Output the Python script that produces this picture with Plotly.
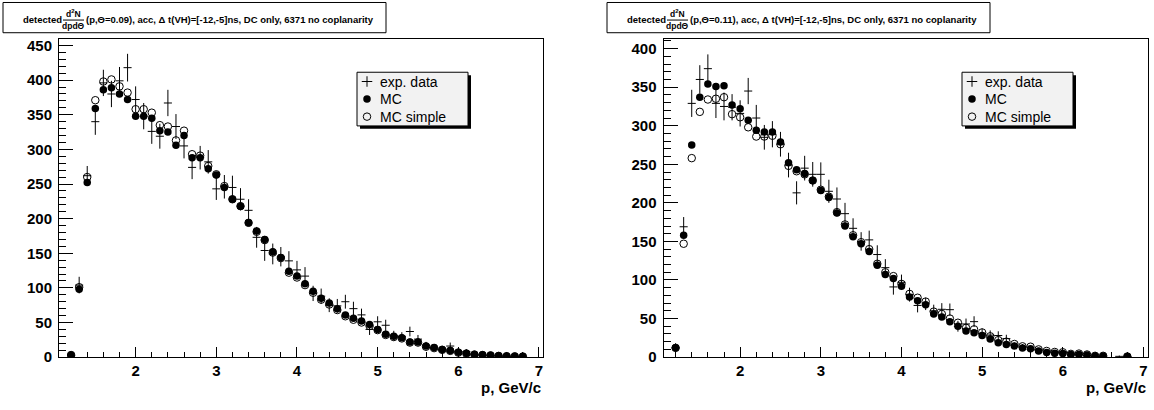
import plotly.graph_objects as go

W, H = 1154, 410

# ---------------- data: momentum bin centres (GeV/c) ----------------
p_bins = [1.2, 1.3, 1.4, 1.5, 1.6, 1.7, 1.8, 1.9, 2.0, 2.1,
          2.2, 2.3, 2.4, 2.5, 2.6, 2.7, 2.8, 2.9, 3.0, 3.1,
          3.2, 3.3, 3.4, 3.5, 3.6, 3.7, 3.8, 3.9, 4.0, 4.1,
          4.2, 4.3, 4.4, 4.5, 4.6, 4.7, 4.8, 4.9, 5.0, 5.1,
          5.2, 5.3, 5.4, 5.5, 5.6, 5.7, 5.8, 5.9, 6.0, 6.1,
          6.2, 6.3, 6.4, 6.5, 6.6, 6.7, 6.8]

# ---------------- Theta = 0.09 ----------------
mc_09 = [3, 98, 252, 359, 386, 389, 380, 372, 348, 348,
         345, 327, 325, 306, 320, 288, 288, 272, 263, 245,
         228, 218, 194, 182, 170, 152, 144, 124, 117, 106,
         95, 85, 78, 70, 61, 56, 52, 47, 40, 33,
         30, 28, 22, 22, 16, 14, 11, 9.5, 7, 5.5,
         4, 3.3, 2.8, 2, 1.5, 1.2, 1]
mcs_09 = [3, 101, 260, 371, 398, 401, 391, 382, 358, 358,
          353, 335, 333, 313, 327, 293, 291, 276, 264, 247,
          228, 218, 194, 181, 169, 151, 143, 122, 115, 104,
          93, 83, 76, 68, 59, 54, 50, 45, 39, 32,
          29, 27, 21, 21, 15, 13, 10.5, 9, 6.5, 5,
          3.5, 3, 2.5, 1.8, 1.3, 1.1, 0.9]
exp_09 = [2, 104, 262, 340, 396, 380, 399, 418, 372, 348,
          326, 319, 367, 333, 305, 274, 288, 282, 243, 246,
          245, 228, 212, 173, 154, 149, 145, 139, 126, 117,
          92, 88, 75, 74, 80, 70, 61, 40, 51, 46,
          31, 30, 37, 26, 17, 13, 11, 16, 8, 8,
          4, 2.5, 2, 1.5, 1, 0.8, 0.5]
err_09 = [1.5, 12, 14, 19, 19, 19, 20, 20, 19, 19,
          18, 18, 19, 18, 18, 17, 17, 17, 16, 17,
          17, 16, 16, 15, 15, 15, 14, 14, 13, 13,
          11, 11, 10, 10, 10, 10, 9, 8, 8, 8,
          7, 6, 7, 6, 5, 4.5, 4, 5, 3.5, 3.5,
          2.5, 2, 1.5, 1.5, 1, 1, 0.7]

# ---------------- Theta = 0.11 ----------------
mc_11 = [12, 158, 275, 337, 354, 351, 352, 327, 322, 307,
         294, 292, 292, 279, 252, 243, 238, 229, 216, 207,
         187, 170, 156, 147, 137, 119, 107, 102, 92, 78,
         73, 68, 56, 52, 46, 40, 34, 31.6, 28, 23.6,
         18.5, 16.4, 14.3, 11.8, 11, 8, 6, 5, 4.6, 3.4,
         3.4, 2.9, 1.3, 1.3, None, None, 0.8]
mcs_11 = [12, 147, 258, 318, 334, 335, 337, 315, 311, 298,
          286, 286, 287, 276, 248, 241, 237, 229, 217, 208,
          188, 172, 158, 149, 140, 121, 110, 105, 95, 82,
          77, 72, 59, 56, 50, 44.6, 38, 36, 32, 27,
          22, 20, 17, 14, 13.5, 10, 8, 6.7, 6.3, 4.2,
          4.6, 3.4, 1.7, 1.7, None, None, 0.8]
exp_11 = [12, 169, 329, 360, 374, 329, 325, 324, 316, 345,
          310, 285, 289, 276, 249, 213, 245, 237, 237, 215,
          205, 186, 167, 150, 152, 133, 116, 91, 97, 81,
          67, 69, 60, 62, 61.5, 40, 43, 46, 31, 28.6,
          28, 24, 15, 13, 10, 9, 6.3, 5.5, 6.3, 3,
          4, 2, 1, 1, None, 1, 0.8]
err_11 = [6, 12.6, 17.6, 18.5, 18.5, 19, 18, 17, 17, 17,
          17, 16, 17, 16, 16, 15, 16, 16, 15.5, 15,
          15, 14, 13, 12, 12, 12, 11, 10, 10, 9,
          9, 8, 8, 8, 8, 7, 7, 7, 6, 6,
          5.5, 5, 4, 4, 3.5, 3, 2.5, 2.5, 2.5, 2,
          2, 1.5, 1, 1, None, 1, 1]

titles = ["(p,\u0398=0.09), acc, \u0394 t(VH)=[-12,-5]ns, DC only, 6371 no coplanarity",
          "(p,\u0398=0.11), acc, \u0394 t(VH)=[-12,-5]ns, DC only, 6371 no coplanarity"]
y_max = [460, 413]
legend_labels = ["exp. data", "MC", "MC simple"]

# ---------------- layout geometry (pixels) ----------------
FRAME_TOP, FRAME_BOTTOM = 37.5, 364
panels = [
    dict(x0=59, x1=543, off=0),
    dict(x0=663.5, x1=1147.5, off=604),
]
FONT = "Liberation Sans"


def fx(px):
    return px / W


def fy(py):
    return 1 - py / H


fig = go.Figure()
shapes, annotations = [], []

series = [(mc_09, mcs_09, exp_09, err_09), (mc_11, mcs_11, exp_11, err_11)]

for i, (pan, (mc, mcs, ex, er)) in enumerate(zip(panels, series)):
    xa = "x" if i == 0 else "x2"
    ya = "y" if i == 0 else "y2"
    # measured data: statistical error bars plus bin-width horizontal bars, no marker
    fig.add_trace(go.Scatter(
        x=p_bins, y=ex, mode="markers", xaxis=xa, yaxis=ya,
        marker=dict(size=4, color="black", opacity=0),
        error_x=dict(type="constant", value=0.05, width=0, thickness=1, color="black"),
        error_y=dict(type="data", array=er, width=0, thickness=1, color="black"),
        showlegend=False, hoverinfo="skip"))
    # simple Monte Carlo: open circles
    fig.add_trace(go.Scatter(
        x=p_bins, y=mcs, mode="markers", xaxis=xa, yaxis=ya,
        marker=dict(symbol="circle-open", size=7.5, color="black", line=dict(width=1, color="black")),
        showlegend=False, hoverinfo="skip"))
    # full Monte Carlo: filled circles
    fig.add_trace(go.Scatter(
        x=p_bins, y=mc, mode="markers", xaxis=xa, yaxis=ya,
        marker=dict(symbol="circle", size=7.5, color="black"),
        showlegend=False, hoverinfo="skip"))

    off = pan["off"]
    # title box
    shapes.append(dict(type="rect", xref="paper", yref="paper",
                       x0=fx(3 + off), x1=fx(386 + off), y0=fy(31.5), y1=fy(0.5),
                       line=dict(color="black", width=1), fillcolor="white", layer="below"))
    annotations.append(dict(text="detected", xref="paper", yref="paper",
                            x=fx(21 + off), y=fy(17.5), xanchor="left", yanchor="middle",
                            showarrow=False, font=dict(family=FONT, size=9.5, weight="bold", color="black")))
    annotations.append(dict(text="d<sup>2</sup>N", xref="paper", yref="paper",
                            x=fx(73.5 + off), y=fy(11.5), xanchor="center", yanchor="middle",
                            showarrow=False, font=dict(family=FONT, size=8.5, weight="bold", color="black")))
    shapes.append(dict(type="line", xref="paper", yref="paper",
                       x0=fx(63 + off), x1=fx(84 + off), y0=fy(18.5), y1=fy(18.5),
                       line=dict(color="black", width=1)))
    annotations.append(dict(text="dpd\u0398", xref="paper", yref="paper",
                            x=fx(73.5 + off), y=fy(24.5), xanchor="center", yanchor="middle",
                            showarrow=False, font=dict(family=FONT, size=8.5, weight="bold", color="black")))
    annotations.append(dict(text=titles[i], xref="paper", yref="paper",
                            x=fx(84 + off), y=fy(18), xanchor="left", yanchor="middle",
                            showarrow=False, font=dict(family=FONT, size=9.5, weight="bold", color="black")))
    # x axis title
    annotations.append(dict(text="p, GeV/c", xref="paper", yref="paper",
                            x=fx(pan["x1"]), y=fy(395), xanchor="right", yanchor="middle",
                            showarrow=False, font=dict(family=FONT, size=15, weight="bold", color="black")))
    # legend box with shadow
    lx0, lx1, ly0, ly1 = 357 + off + (1 if i else 0), 468 + off + (1 if i else 0), 72, 127
    shapes.append(dict(type="rect", xref="paper", yref="paper",
                       x0=fx(lx0 + 3), x1=fx(lx1 + 3), y0=fy(ly1 + 3), y1=fy(ly0 + 3),
                       line=dict(width=0), fillcolor="black", layer="below"))
    shapes.append(dict(type="rect", xref="paper", yref="paper",
                       x0=fx(lx0), x1=fx(lx1), y0=fy(ly1), y1=fy(ly0),
                       line=dict(color="black", width=1), fillcolor="#f2f2f2", layer="below"))
    rows = [81.5, 99.5, 117.5]
    for lab, ry in zip(legend_labels, rows):
        annotations.append(dict(text=lab, xref="paper", yref="paper",
                                x=fx(lx0 + 21), y=fy(ry), xanchor="left", yanchor="middle",
                                showarrow=False, font=dict(family=FONT, size=14, color="black")))
    # legend keys drawn on a full-page pixel overlay
    kx = lx0 + 10
    fig.add_trace(go.Scatter(x=[kx], y=[rows[0]], xaxis="x3", yaxis="y3", mode="markers",
                             marker=dict(symbol="cross-thin-open", size=7.5, color="black",
                                         line=dict(width=1, color="black")),
                             showlegend=False, hoverinfo="skip"))
    fig.add_trace(go.Scatter(x=[kx], y=[rows[1]], xaxis="x3", yaxis="y3", mode="markers",
                             marker=dict(symbol="circle", size=7.5, color="black"),
                             showlegend=False, hoverinfo="skip"))
    fig.add_trace(go.Scatter(x=[kx], y=[rows[2]], xaxis="x3", yaxis="y3", mode="markers",
                             marker=dict(symbol="circle-open", size=7.5, color="black",
                                         line=dict(width=1, color="black")),
                             showlegend=False, hoverinfo="skip"))


def x_axis(pan, anchor):
    return dict(domain=[fx(pan["x0"]), fx(pan["x1"])], anchor=anchor, range=[1.05, 7.05],
                tick0=0, dtick=1, ticks="inside", ticklen=10, tickwidth=1, tickcolor="black",
                minor=dict(ticks="inside", ticklen=5, tick0=0, dtick=0.2, tickwidth=1, tickcolor="black"),
                showline=True, linecolor="black", linewidth=1, mirror=True,
                showgrid=False, zeroline=False,
                tickfont=dict(family=FONT, size=15, weight="bold", color="black"))


def y_axis(pan, anchor, top):
    return dict(domain=[fy(FRAME_BOTTOM), fy(FRAME_TOP)], anchor=anchor, range=[0, top],
                tick0=0, dtick=50, ticks="inside", ticklen=14, tickwidth=1, tickcolor="black",
                minor=dict(ticks="inside", ticklen=7, tick0=0, dtick=10, tickwidth=1, tickcolor="black"),
                showline=True, linecolor="black", linewidth=1, mirror=True,
                showgrid=False, zeroline=False, ticklabelstandoff=3,
                tickfont=dict(family=FONT, size=15, weight="bold", color="black"))


fig.update_layout(
    width=W, height=H,
    margin=dict(l=0, r=0, t=0, b=0),
    paper_bgcolor="white", plot_bgcolor="rgba(0,0,0,0)",
    xaxis=x_axis(panels[0], "y"),
    yaxis=y_axis(panels[0], "x", y_max[0]),
    xaxis2=x_axis(panels[1], "y2"),
    yaxis2=y_axis(panels[1], "x2", y_max[1]),
    xaxis3=dict(domain=[0, 1], range=[0, W], anchor="y3", visible=False, fixedrange=True),
    yaxis3=dict(domain=[0, 1], range=[H, 0], anchor="x3", visible=False, fixedrange=True),
    shapes=shapes, annotations=annotations,
    showlegend=False,
)

fig.write_html("out.html")
